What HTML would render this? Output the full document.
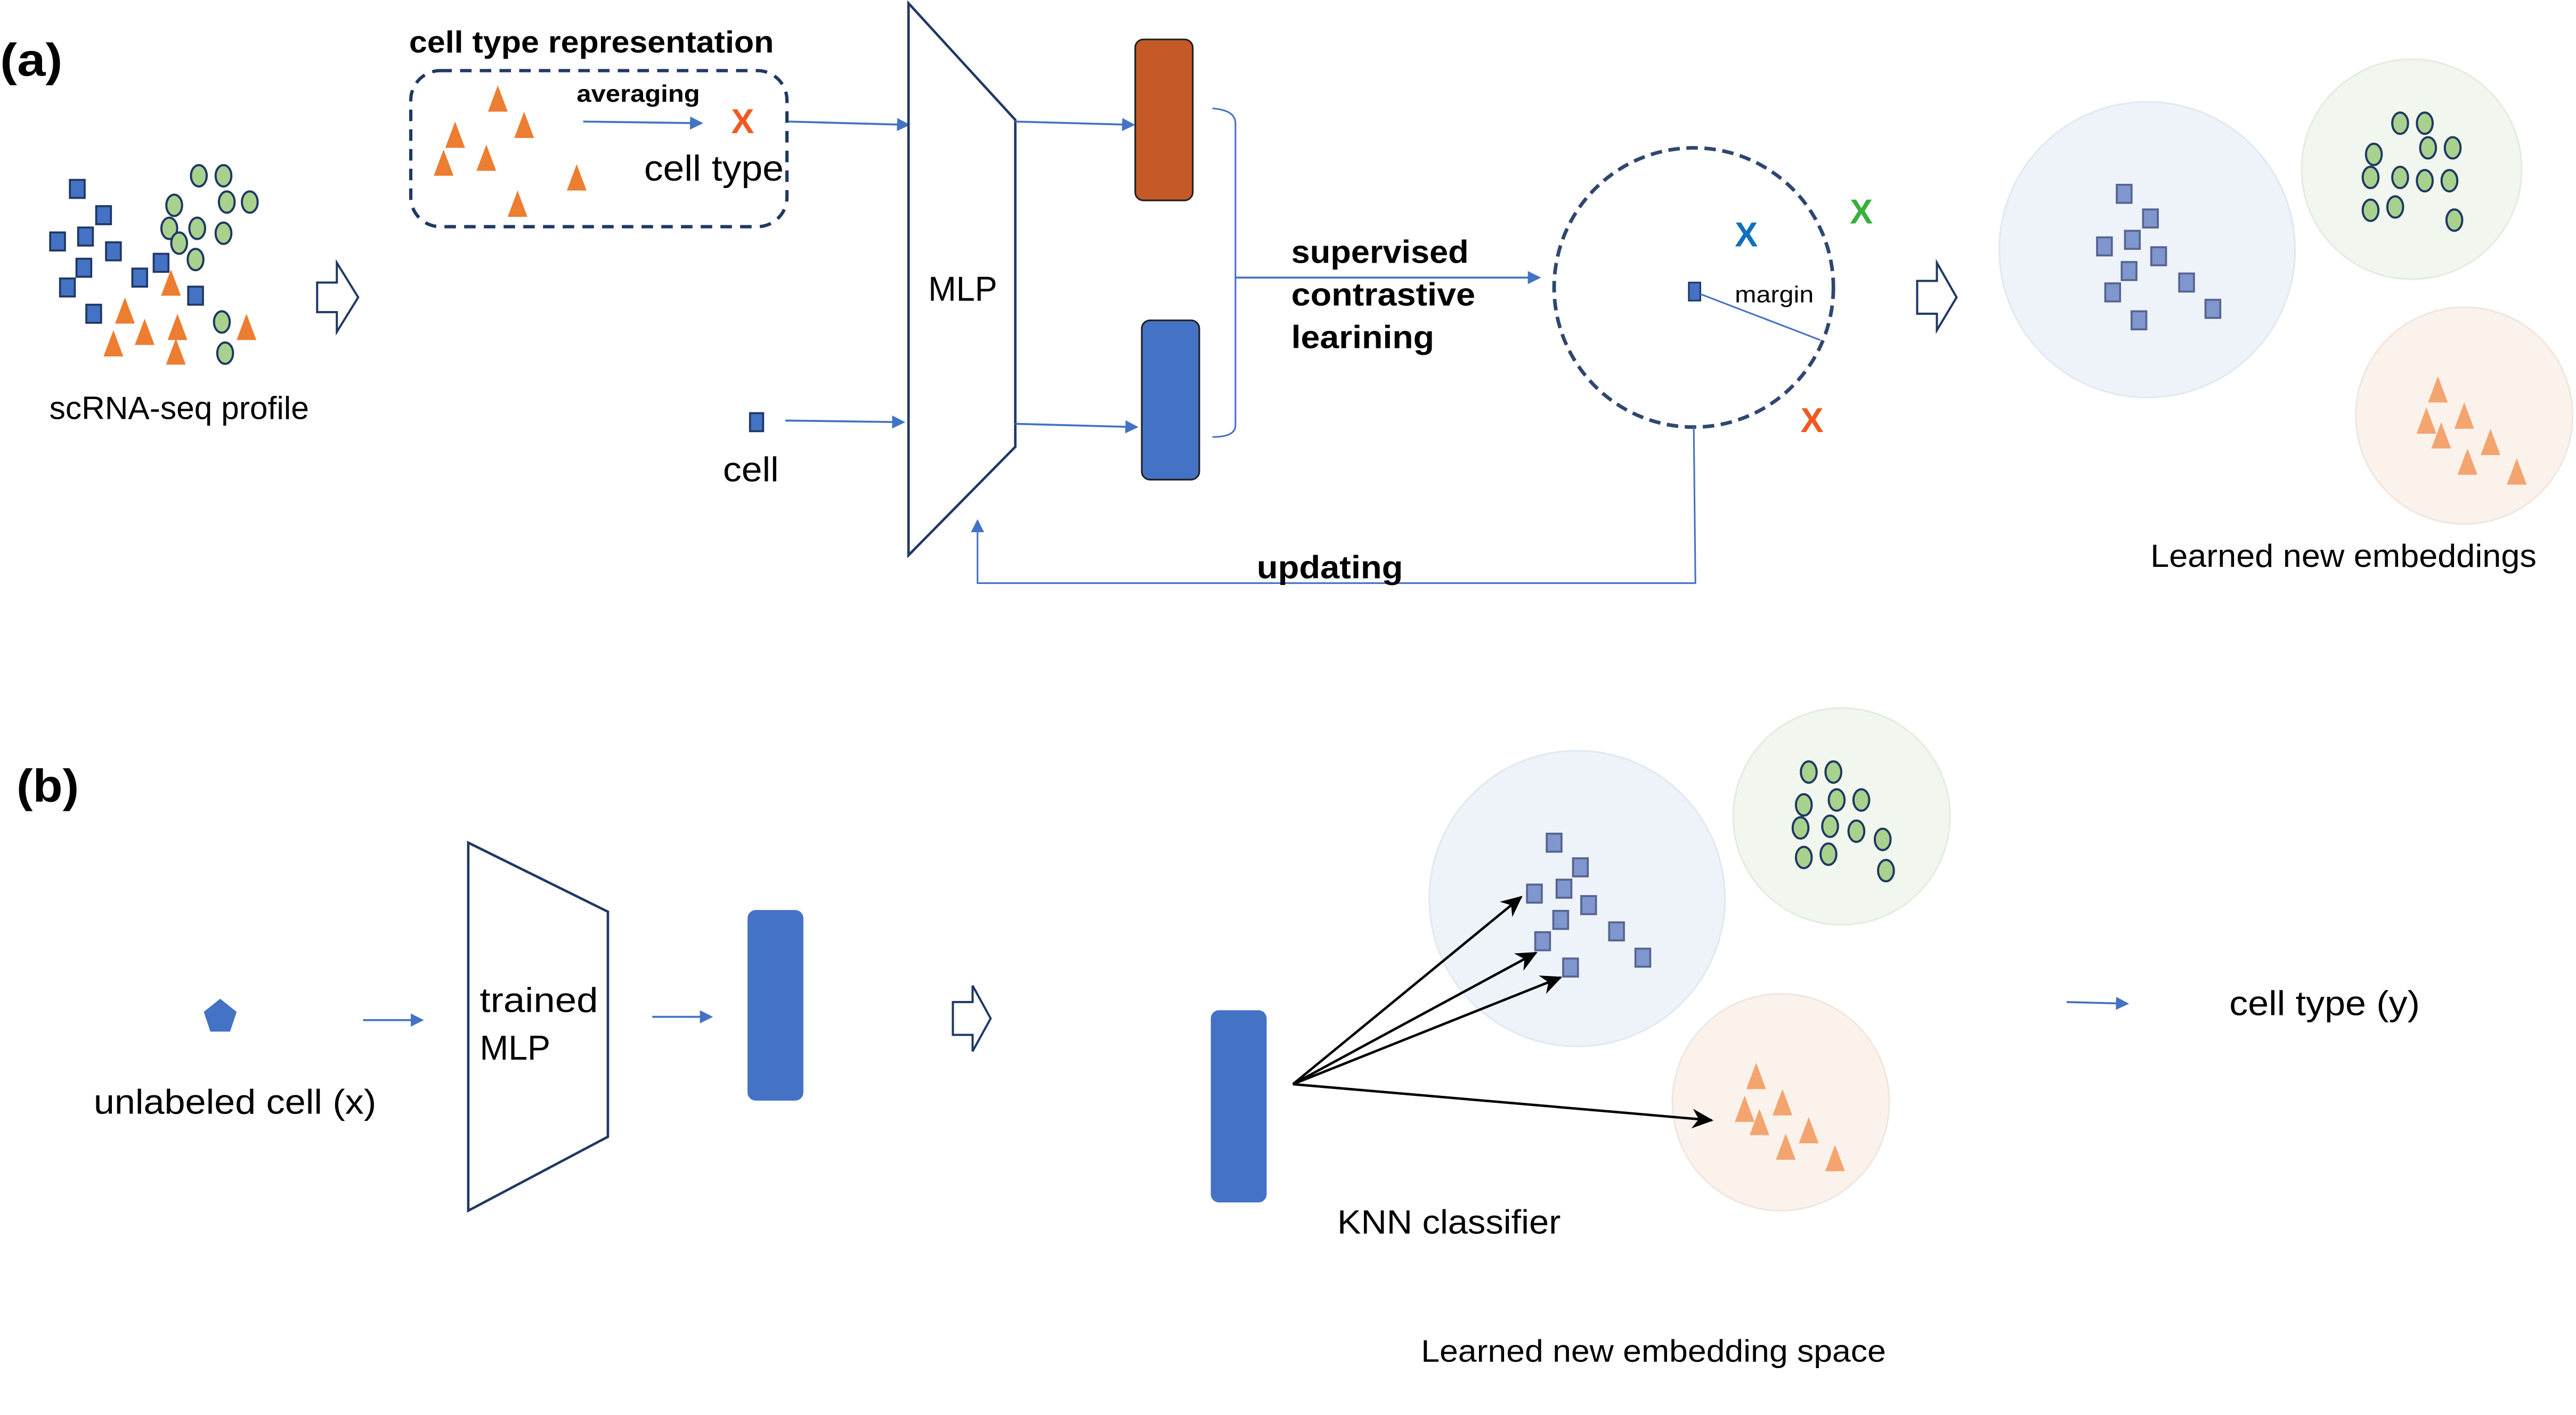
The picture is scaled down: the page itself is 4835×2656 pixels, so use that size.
<!DOCTYPE html>
<html><head><meta charset="utf-8"><style>
html,body{margin:0;padding:0;background:#fff;}
svg{display:block;}
text{font-family:"Liberation Sans",sans-serif;fill:#000;}
.b{font-weight:bold;}
</style></head><body>
<svg width="4835" height="2656" viewBox="0 0 1568 861.4" xmlns="http://www.w3.org/2000/svg">
<defs>
<marker id="ab" markerWidth="8" markerHeight="8" refX="7" refY="4" orient="auto" markerUnits="userSpaceOnUse"><path d="M0,0 L8,4 L0,8 z" fill="#4472C4"/></marker>
<marker id="ak" markerWidth="14" markerHeight="12" refX="12" refY="6" orient="auto" markerUnits="userSpaceOnUse"><path d="M0,0 L13,6 L0,12 L4,6 z" fill="#000"/></marker>
<g id="sq"><rect x="-4.5" y="-5.5" width="9" height="11" fill="#4472C4" stroke="#1F3864" stroke-width="1.2"/></g>
<g id="sq2"><rect x="-4.5" y="-5.5" width="9" height="11" fill="#7F96CF" stroke="#56648F" stroke-width="1.2"/></g>
<g id="ci"><ellipse rx="4.8" ry="6.5" fill="#A9D18E" stroke="#1F3864" stroke-width="1.3"/></g>
<g id="tr"><path d="M0,-8 L6,8 L-6,8 z" fill="#ED7D31"/></g>
<g id="tr2"><path d="M0,-8 L6,8 L-6,8 z" fill="#F4A46E"/></g>
</defs>

<!-- (a) -->
<text x="0" y="46" font-size="28" class="b" textLength="38" lengthAdjust="spacingAndGlyphs">(a)</text>
<g>
<use href="#sq" x="47" y="115"/><use href="#sq" x="63" y="131"/><use href="#sq" x="35" y="147"/><use href="#sq" x="52" y="144"/><use href="#sq" x="69" y="153"/><use href="#sq" x="51" y="163"/><use href="#sq" x="41" y="175"/><use href="#sq" x="85" y="169"/><use href="#sq" x="98" y="160"/><use href="#sq" x="119" y="180"/><use href="#sq" x="57" y="191"/>
<use href="#ci" x="121" y="107"/><use href="#ci" x="136" y="107"/><use href="#ci" x="106" y="125"/><use href="#ci" x="138" y="123"/><use href="#ci" x="152" y="123"/><use href="#ci" x="103" y="139"/><use href="#ci" x="120" y="139"/><use href="#ci" x="136" y="142"/><use href="#ci" x="109" y="148"/><use href="#ci" x="119" y="158"/><use href="#ci" x="135" y="196"/><use href="#ci" x="137" y="215"/>
<use href="#tr" x="104" y="172"/><use href="#tr" x="76" y="189"/><use href="#tr" x="88" y="202"/><use href="#tr" x="108" y="199"/><use href="#tr" x="69" y="209"/><use href="#tr" x="107" y="214"/><use href="#tr" x="150" y="199"/>
</g>
<path d="M193,172 L205,172 L205,160 L218,181 L205,202 L205,190 L193,190 z" fill="#fff" stroke="#1F3864" stroke-width="1.3"/>
<text x="30" y="255" font-size="19.5" textLength="158" lengthAdjust="spacingAndGlyphs">scRNA-seq profile</text>

<text x="249" y="32" font-size="18.5" class="b" textLength="222" lengthAdjust="spacingAndGlyphs">cell type representation</text>
<rect x="250" y="43" width="229" height="95" rx="18" fill="none" stroke="#1F3864" stroke-width="2" stroke-dasharray="7,5"/>
<use href="#tr" x="303" y="60"/><use href="#tr" x="319" y="76"/><use href="#tr" x="277" y="82"/><use href="#tr" x="270" y="99"/><use href="#tr" x="296" y="96"/><use href="#tr" x="351" y="108"/><use href="#tr" x="315" y="124"/>
<text x="351" y="62" font-size="14.5" class="b" textLength="75" lengthAdjust="spacingAndGlyphs">averaging</text>
<line x1="355" y1="74" x2="427" y2="75" stroke="#4472C4" stroke-width="1.2" marker-end="url(#ab)"/>
<text x="445" y="81" font-size="21" class="b" style="fill:#F05A22">X</text>
<text x="392" y="110" font-size="22" textLength="85" lengthAdjust="spacingAndGlyphs">cell type</text>
<line x1="480" y1="74" x2="553" y2="76" stroke="#4472C4" stroke-width="1.2" marker-end="url(#ab)"/>

<path d="M553,2 L618,73 L618,272 L553,338 z" fill="#fff" stroke="#1F3864" stroke-width="1.5"/>
<text x="565" y="183" font-size="21" textLength="42" lengthAdjust="spacingAndGlyphs">MLP</text>

<rect x="456.5" y="251.5" width="8" height="11" fill="#4472C4" stroke="#1F3864" stroke-width="1.2"/>
<text x="440" y="293" font-size="21" textLength="34" lengthAdjust="spacingAndGlyphs">cell</text>
<line x1="478" y1="256" x2="550" y2="257" stroke="#4472C4" stroke-width="1.2" marker-end="url(#ab)"/>

<line x1="618" y1="74" x2="690" y2="76" stroke="#4472C4" stroke-width="1.2" marker-end="url(#ab)"/>
<line x1="618" y1="258" x2="692" y2="260" stroke="#4472C4" stroke-width="1.2" marker-end="url(#ab)"/>
<rect x="691" y="24" width="35" height="98" rx="5" fill="#C55A28" stroke="#1F1F1F" stroke-width="1"/>
<rect x="695" y="195" width="35" height="97" rx="5" fill="#4472C4" stroke="#1F1F1F" stroke-width="1"/>
<path d="M738,66 Q752,67 752,75 L752,259 Q752,266 738,266" fill="none" stroke="#4472C4" stroke-width="1"/>
<line x1="752" y1="169" x2="937" y2="169" stroke="#4472C4" stroke-width="1.2" marker-end="url(#ab)"/>
<text x="786" y="160" font-size="19.5" class="b" textLength="108" lengthAdjust="spacingAndGlyphs">supervised</text>
<text x="786" y="186" font-size="19.5" class="b" textLength="112" lengthAdjust="spacingAndGlyphs">contrastive</text>
<text x="786" y="212" font-size="19.5" class="b" textLength="87" lengthAdjust="spacingAndGlyphs">learining</text>

<circle cx="1031" cy="175" r="85" fill="none" stroke="#2F4670" stroke-width="2.2" stroke-dasharray="7,4"/>
<rect x="1028" y="172" width="7" height="11" fill="#4472C4" stroke="#1F3864" stroke-width="1"/>
<line x1="1035" y1="179" x2="1108" y2="207" stroke="#4472C4" stroke-width="1"/>
<text x="1056" y="184" font-size="14" textLength="48" lengthAdjust="spacingAndGlyphs">margin</text>
<text x="1056" y="150" font-size="21" class="b" style="fill:#0D70C0">X</text>
<text x="1126" y="136" font-size="21" class="b" style="fill:#38B03B">X</text>
<text x="1096" y="263" font-size="21" class="b" style="fill:#F05A22">X</text>
<polyline points="1031,260 1032,355 595,355 595,317" fill="none" stroke="#4472C4" stroke-width="1" marker-end="url(#ab)"/>
<text x="765" y="352" font-size="19.5" class="b" textLength="89" lengthAdjust="spacingAndGlyphs">updating</text>

<path d="M1167,171 L1179,171 L1179,160 L1191,181 L1179,201 L1179,191 L1167,191 z" fill="#fff" stroke="#1F3864" stroke-width="1.3"/>

<circle cx="1307" cy="152" r="90" fill="#EEF3FA" stroke="#E2E8F2" stroke-width="1"/>
<circle cx="1468" cy="103" r="67" fill="#F1F6EE" stroke="#E5EBE2" stroke-width="1"/>
<circle cx="1500" cy="253" r="66" fill="#FBF2EC" stroke="#F0E6E0" stroke-width="1"/>
<use href="#sq2" x="1293" y="118"/><use href="#sq2" x="1309" y="133"/><use href="#sq2" x="1281" y="150"/><use href="#sq2" x="1298" y="146"/><use href="#sq2" x="1314" y="156"/><use href="#sq2" x="1296" y="165"/><use href="#sq2" x="1286" y="178"/><use href="#sq2" x="1331" y="172"/><use href="#sq2" x="1302" y="195"/><use href="#sq2" x="1347" y="188"/>
<use href="#ci" x="1461" y="75"/><use href="#ci" x="1476" y="75"/><use href="#ci" x="1445" y="94"/><use href="#ci" x="1478" y="90"/><use href="#ci" x="1493" y="90"/><use href="#ci" x="1443" y="108"/><use href="#ci" x="1461" y="108"/><use href="#ci" x="1476" y="110"/><use href="#ci" x="1491" y="110"/><use href="#ci" x="1443" y="128"/><use href="#ci" x="1458" y="126"/><use href="#ci" x="1494" y="134"/>
<use href="#tr2" x="1484" y="237"/><use href="#tr2" x="1500" y="253"/><use href="#tr2" x="1477" y="256"/><use href="#tr2" x="1486" y="265"/><use href="#tr2" x="1516" y="269"/><use href="#tr2" x="1502" y="281"/><use href="#tr2" x="1532" y="287"/>
<text x="1309" y="345" font-size="19.5" textLength="235" lengthAdjust="spacingAndGlyphs">Learned new embeddings</text>

<!-- (b) -->
<text x="10" y="488" font-size="28" class="b" textLength="38" lengthAdjust="spacingAndGlyphs">(b)</text>
<path d="M134,608 L144,616 L140,628 L128,628 L124,616 z" fill="#4472C4"/>
<text x="57" y="678" font-size="21" textLength="172" lengthAdjust="spacingAndGlyphs">unlabeled cell (x)</text>
<line x1="221" y1="621" x2="257" y2="621" stroke="#4472C4" stroke-width="1.2" marker-end="url(#ab)"/>
<path d="M285,513 L370,555 L370,692 L285,737 z" fill="#fff" stroke="#1F3864" stroke-width="1.5"/>
<text x="292" y="616" font-size="21" textLength="72" lengthAdjust="spacingAndGlyphs">trained</text>
<text x="292" y="645" font-size="21" textLength="43" lengthAdjust="spacingAndGlyphs">MLP</text>
<line x1="397" y1="619" x2="433" y2="619" stroke="#4472C4" stroke-width="1.2" marker-end="url(#ab)"/>
<rect x="455" y="554" width="34" height="116" rx="5" fill="#4472C4"/>
<path d="M580,610 L592,610 L592,600 L603,620 L592,640 L592,630 L580,630 z" fill="#fff" stroke="#1F3864" stroke-width="1.3"/>
<rect x="737" y="615" width="34" height="117" rx="5" fill="#4472C4"/>

<circle cx="960" cy="547" r="90" fill="#EEF3FA" stroke="#E2E8F2" stroke-width="1"/>
<circle cx="1121" cy="497" r="66" fill="#F1F6EE" stroke="#E5EBE2" stroke-width="1"/>
<circle cx="1084" cy="671" r="66" fill="#FBF2EC" stroke="#F0E6E0" stroke-width="1"/>
<use href="#sq2" x="946" y="513"/><use href="#sq2" x="962" y="528"/><use href="#sq2" x="934" y="544"/><use href="#sq2" x="952" y="541"/><use href="#sq2" x="967" y="551"/><use href="#sq2" x="950" y="560"/><use href="#sq2" x="939" y="573"/><use href="#sq2" x="984" y="567"/><use href="#sq2" x="956" y="589"/><use href="#sq2" x="1000" y="583"/>
<use href="#ci" x="1101" y="470"/><use href="#ci" x="1116" y="470"/><use href="#ci" x="1098" y="490"/><use href="#ci" x="1118" y="487"/><use href="#ci" x="1133" y="487"/><use href="#ci" x="1096" y="504"/><use href="#ci" x="1114" y="503"/><use href="#ci" x="1130" y="506"/><use href="#ci" x="1146" y="511"/><use href="#ci" x="1098" y="522"/><use href="#ci" x="1113" y="520"/><use href="#ci" x="1148" y="530"/>
<use href="#tr2" x="1069" y="655"/><use href="#tr2" x="1085" y="671"/><use href="#tr2" x="1062" y="675"/><use href="#tr2" x="1071" y="683"/><use href="#tr2" x="1101" y="688"/><use href="#tr2" x="1087" y="698"/><use href="#tr2" x="1117" y="705"/>

<g stroke="#000" stroke-width="1.5" fill="none">
<line x1="787" y1="660" x2="926" y2="546" marker-end="url(#ak)"/>
<line x1="787" y1="660" x2="935" y2="580" marker-end="url(#ak)"/>
<line x1="787" y1="660" x2="950" y2="595" marker-end="url(#ak)"/>
<line x1="787" y1="660" x2="1042" y2="682" marker-end="url(#ak)"/>
</g>
<text x="814" y="751" font-size="20.5" textLength="136" lengthAdjust="spacingAndGlyphs">KNN classifier</text>
<line x1="1258" y1="610" x2="1295" y2="611" stroke="#4472C4" stroke-width="1.2" marker-end="url(#ab)"/>
<text x="1357" y="618" font-size="21" textLength="116" lengthAdjust="spacingAndGlyphs">cell type (y)</text>
<text x="865" y="829" font-size="19" textLength="283" lengthAdjust="spacingAndGlyphs">Learned new embedding space</text>
</svg>
</body></html>
